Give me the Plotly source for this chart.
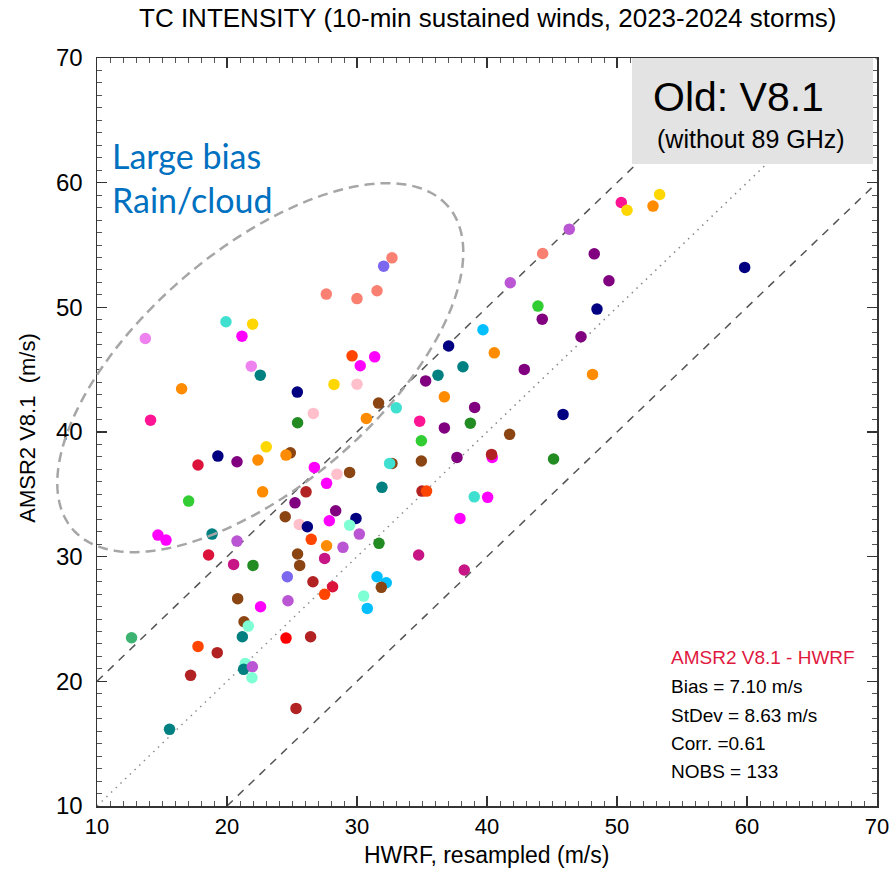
import numpy as np
import plotly.graph_objects as go

# ---------------- data ----------------
hwrf = [13.72, 19.92, 21.97, 21.15, 27.64, 30.0, 31.54, 32.05, 32.69, 39.69,
        37.05, 29.62, 31.36, 30.25, 21.87, 22.56, 36.23, 38.15, 35.28, 40.56,
        16.51, 25.41, 28.23, 30.0, 36.72, 31.66, 33.02, 26.64, 30.72, 14.12,
        25.43, 34.82, 39.05, 36.72, 38.72, 34.95, 23.02, 24.87, 24.54, 22.38,
        19.3, 17.77, 20.77, 26.72, 28.46, 29.43, 32.69, 32.51, 34.95, 37.69,
        40.4, 40.35, 27.66, 31.92, 22.74, 26.08, 35.0, 35.35, 17.05, 25.23,
        39.02, 40.05, 24.48, 28.36, 29.92, 27.87, 25.56, 26.18, 29.43, 30.18,
        18.85, 14.69, 15.31, 20.77, 26.48, 27.66, 28.92, 31.69, 25.43, 18.58,
        27.51, 34.74, 20.51, 22.0, 25.59, 38.25, 24.64, 26.61, 28.12, 27.51,
        31.54, 32.25, 31.87, 30.51, 30.79, 20.82, 24.69, 22.58, 21.31, 21.64,
        12.66, 21.18, 24.54, 26.43, 17.77, 19.25, 21.41, 21.28, 21.95, 21.92,
        17.2, 25.31, 15.58, 50.33, 50.77, 53.28, 52.77, 46.33, 44.28, 48.25,
        49.38, 41.79, 43.92, 44.25, 48.46, 47.23, 42.87, 48.12, 59.82, 45.85,
        41.74, 45.12, 37.92]
amsr2 = [47.5, 48.84, 48.65, 47.69, 51.06, 50.7, 51.33, 53.3, 53.97, 48.2,
         46.9, 46.11, 46.03, 45.31, 45.28, 44.56, 44.56, 45.23, 44.1, 46.35,
         43.47, 43.2, 43.82, 43.84, 42.82, 42.32, 41.94, 41.49, 41.09, 40.95,
         40.74, 40.87, 41.97, 40.33, 40.71, 39.3, 38.81, 38.33, 38.15, 37.75,
         38.07, 37.35, 37.61, 37.16, 36.62, 36.76, 37.48, 37.48, 37.67, 37.96,
         37.96, 38.2, 35.88, 35.56, 35.2, 35.2, 35.26, 35.26, 34.46, 34.32,
         34.8, 34.76, 33.2, 33.68, 33.07, 32.88, 32.59, 32.4, 32.53, 31.81,
         31.81, 31.73, 31.33, 31.25, 31.39, 30.88, 30.75, 31.07, 30.21, 30.13,
         29.86, 30.13, 29.38, 29.3, 29.3, 28.93, 28.39, 27.99, 27.59, 26.98,
         28.39, 27.91, 27.54, 26.84, 25.85, 26.63, 26.46, 25.98, 24.78, 24.43,
         23.5, 23.58, 23.47, 23.58, 22.8, 22.3, 21.44, 20.96, 21.17, 20.29,
         20.48, 17.83, 16.15, 58.41, 57.79, 59.05, 58.12, 56.27, 54.32, 54.29,
         52.13, 51.97, 50.1, 49.05, 49.86, 47.64, 45.02, 44.62, 53.2, 41.41,
         39.81, 37.83, 33.07]
storm_color = ["violet", "turquoise", "gold", "magenta", "salmon", "salmon", "salmon", "mediumslateblue", "salmon", "deepskyblue",
               "navy", "orangered", "magenta", "magenta", "violet", "teal", "teal", "teal", "purple", "darkorange",
               "darkorange", "navy", "gold", "pink", "darkorange", "saddlebrown", "turquoise", "pink", "darkorange", "deeppink",
               "forestgreen", "deeppink", "purple", "purple", "forestgreen", "limegreen", "gold", "saddlebrown", "darkorange", "darkorange",
               "navy", "crimson", "purple", "magenta", "pink", "saddlebrown", "saddlebrown", "turquoise", "saddlebrown", "purple",
               "magenta", "firebrick", "magenta", "teal", "darkorange", "firebrick", "firebrick", "orangered", "limegreen", "purple",
               "turquoise", "magenta", "saddlebrown", "purple", "navy", "magenta", "pink", "navy", "aquamarine", "mediumorchid",
               "teal", "magenta", "magenta", "mediumorchid", "orangered", "darkorange", "mediumorchid", "forestgreen", "saddlebrown", "crimson",
               "mediumvioletred", "mediumvioletred", "mediumvioletred", "forestgreen", "saddlebrown", "mediumvioletred", "mediumslateblue", "firebrick", "crimson", "orangered",
               "deepskyblue", "deepskyblue", "saddlebrown", "aquamarine", "deepskyblue", "saddlebrown", "mediumorchid", "magenta", "saddlebrown", "aquamarine",
               "mediumseagreen", "teal", "red", "firebrick", "orangered", "firebrick", "aquamarine", "teal", "mediumorchid", "aquamarine",
               "firebrick", "firebrick", "teal", "deeppink", "gold", "gold", "darkorange", "mediumorchid", "salmon", "purple",
               "purple", "mediumorchid", "limegreen", "purple", "navy", "purple", "purple", "darkorange", "navy", "navy",
               "saddlebrown", "forestgreen", "magenta"]

x_range = [10, 70]
y_range = [10, 70]
tick_vals = [10, 20, 30, 40, 50, 60, 70]
bias_offset = 10  # +/- 10 m/s reference lines

title_text = "TC INTENSITY (10-min sustained winds, 2023-2024 storms)"
x_title = "HWRF, resampled (m/s)"
y_title = "AMSR2 V8.1  (m/s)"
stats_head = "AMSR2 V8.1 - HWRF"
stats_lines = ["Bias = 7.10 m/s", "StDev = 8.63 m/s", "Corr. =0.61", "NOBS = 133"]

# ellipse (data units): centre, semi-axis vectors
ell_c = (22.56, 45.16)
ell_u = (14.45, 12.94)
ell_v = (-5.92, 7.18)

FONT = "Arial, Liberation Sans, sans-serif"

fig = go.Figure()
fig.add_trace(go.Scatter(
    x=hwrf, y=amsr2, mode="markers",
    marker=dict(size=11.5, color=storm_color, line=dict(width=0)),
    showlegend=False, cliponaxis=False, hoverinfo="skip"))

# reference lines
x0, x1 = x_range
fig.add_shape(type="line", xref="x", yref="y", x0=x0, y0=x0 + bias_offset, x1=x1 - bias_offset, y1=x1,
              line=dict(color="#555555", width=1.5, dash="8px,7px"), layer="below")
fig.add_shape(type="line", xref="x", yref="y", x0=x0 + bias_offset, y0=x0, x1=x1, y1=x1 - bias_offset,
              line=dict(color="#555555", width=1.5, dash="8px,7px"), layer="below")
fig.add_shape(type="line", xref="x", yref="y", x0=x0, y0=x0, x1=x1, y1=x1,
              line=dict(color="#8a8a8a", width=1.5, dash="1.5px,5px"), layer="below")

# ellipse drawn in paper coordinates so it can extend past the axis
t = np.linspace(0, 2 * np.pi, 181)
ex = ell_c[0] + ell_u[0] * np.cos(t) + ell_v[0] * np.sin(t)
ey = ell_c[1] + ell_u[1] * np.cos(t) + ell_v[1] * np.sin(t)
px = (ex - x_range[0]) / (x_range[1] - x_range[0])
py = (ey - y_range[0]) / (y_range[1] - y_range[0])
path = "M " + " L ".join(f"{a:.5f},{b:.5f}" for a, b in zip(px, py)) + " Z"
fig.add_shape(type="path", xref="paper", yref="paper", path=path,
              line=dict(color="#a6a6a6", width=2.5, dash="10px,6px"), layer="above")

# grey box
fig.add_shape(type="rect", xref="paper", yref="paper", x0=0.6859, x1=0.9949, y0=0.8583, y1=1.0,
              fillcolor="#e3e3e3", line=dict(width=0), layer="above")

ann = []
ann.append(dict(text="Old: V8.1", x=0.8228, y=0.9483, font=dict(size=41, color="black", family=FONT)))
ann.append(dict(text="(without 89 GHz)", x=0.8388, y=0.8917, font=dict(size=25, color="black", family=FONT)))
ann.append(dict(text="Large bias", x=0.0171, y=0.8703, xanchor="left",
                font=dict(size=34, color="#0070C0", family="Lato, Open Sans, sans-serif")))
ann.append(dict(text="Rain/cloud", x=0.0171, y=0.8102, xanchor="left",
                font=dict(size=34, color="#0070C0", family="Lato, Open Sans, sans-serif")))
ann.append(dict(text=stats_head, x=0.7337, y=0.1979, xanchor="left",
                font=dict(size=19, color="#e0193f", family=FONT)))
for i, s in enumerate(stats_lines):
    ann.append(dict(text=s, x=0.7337, y=0.1591 - i * 0.03745, xanchor="left",
                    font=dict(size=19, color="black", family=FONT)))
ann.append(dict(text=title_text, x=0.5, y=(806 - 18.3) / 748, font=dict(size=26, color="black", family=FONT)))
ann.append(dict(text=x_title, x=0.499, y=-0.0655, font=dict(size=23, color="black", family=FONT)))
ann.append(dict(text=y_title, x=-0.0894, y=0.5047, textangle=-90, font=dict(size=22, color="black", family=FONT)))
for a in ann:
    a.setdefault("xanchor", "center")
    a.update(xref="paper", yref="paper", yanchor="middle", showarrow=False)
fig.update_layout(annotations=ann)

axis_common = dict(
    showgrid=False, zeroline=False, showline=True, linecolor="#333333", linewidth=1.5,
    ticks="inside", ticklen=10, tickwidth=1.2, tickcolor="#333333", mirror="ticks",
    tickvals=tick_vals,
    minor=dict(dtick=1, tick0=10, ticks="inside", ticklen=5, tickwidth=1, tickcolor="#555555"),
)
fig.update_xaxes(range=x_range, ticklabelstandoff=0,
                 tickfont=dict(size=22, color="black", family=FONT), **axis_common)
fig.update_yaxes(range=y_range, ticklabelstandoff=8,
                 tickfont=dict(size=24, color="black", family=FONT), **axis_common)

fig.update_layout(
    width=894, height=869,
    margin=dict(l=97, r=17, t=58, b=63, autoexpand=False),
    plot_bgcolor="white", paper_bgcolor="white",
    showlegend=False,
)
fig.write_html("out.html", config={"displayModeBar": False, "staticPlot": True},
               post_script="document.body.style.margin='0';")
